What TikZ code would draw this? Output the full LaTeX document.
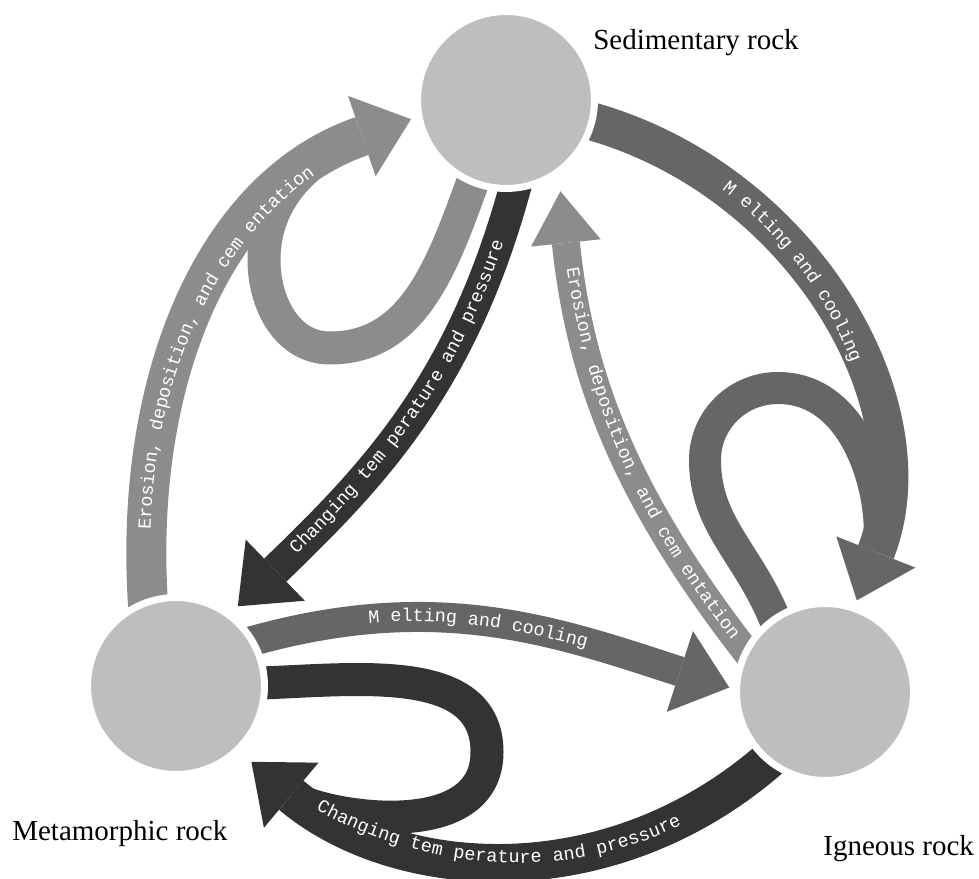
\documentclass[tikz,border=0pt]{standalone}
\usepackage{fontspec}
\setmainfont{Liberation Serif}
\newfontfamily\mono{Liberation Mono}
\usepackage{tikz}
\usetikzlibrary{arrows.meta, decorations.text, backgrounds}
\definecolor{rockfill}{RGB}{190, 190, 190}
\definecolor{erosion}{RGB}{140, 140, 140}
\definecolor{melting}{RGB}{102, 102, 102}
\definecolor{changing}{RGB}{51, 51, 51}
\newcommand{\bandfont}{\mono\fontsize{10.5}{12}\selectfont}

\begin{document}
\begin{tikzpicture}[x=0.02cm, y=0.02cm,
    rock/.style={circle, fill=rockfill, draw=white, line width=0.14cm,
      minimum size=3.54cm, inner sep=0pt},
    rockname/.style={anchor=base west, inner sep=0pt,
      font=\fontsize{16.5}{19}\selectfont},
    head/.style={-{Triangle[width=1.7cm, length=1.04cm, line width'=0pt]}},
    band/.style 2 args={draw=#1, line width=#2, shorten <=-0.2cm},
    bandtext/.style 2 args={decorate, decoration={text along path,
      text={|\bandfont|#1}, text color=white,
      text align={left, left indent=#2}, raise=-2.6pt}}]
  \useasboundingbox (0, 0) rectangle (979, 878);

  \node[rock] (sed) at (506, 778) {};
  \node[rock] (met) at (176, 192) {};
  \node[rock] (ign) at (825, 186) {};

  \node[rockname] (sedname) at (593, 828) {Sedimentary rock};
  \node[rockname] (metname) at (12, 38) {Metamorphic rock};
  \node[rockname] (ignname) at (823, 23) {Igneous rock};

  \coordinate (sedloopB) at (330, 530);
  \coordinate (sedloopL) at (264, 618);
  \coordinate (ignloopL) at (705, 418);
  \coordinate (ignloopT) at (778, 490);
  \coordinate (metloopR) at (487, 126);

  \begin{scope}[on background layer]
    % outer ring
    \draw[band={erosion}{0.8cm}, head, shorten >=0.1cm]
      (met.108) to[out=94, in=199] (sed.191);
    \draw[band={melting}{0.76cm}, head, shorten >=0.1cm]
      (sed.346) to[out=345, in=68.5] (ign.71);
    \draw[band={changing}{0.76cm}, head, shorten >=0.3cm]
      (ign.230) to[out=221.6, in=320] (met.314);

    % loops that run back into the ring
    \draw[band={erosion}{0.66cm}, shorten >=1.2cm]
      (sed.248) to[out=250, in=0] (sedloopB) to[out=180, in=270] (sedloopL)
      to[out=90, in=199] (sed.191);
    \draw[band={melting}{0.64cm}, shorten >=1.2cm]
      (ign.124) to[out=111, in=270] (ignloopL) to[out=90, in=180] (ignloopT)
      to[out=0, in=68.5] (ign.71);
    \draw[band={changing}{0.66cm}, shorten >=1.4cm]
      (met.2) to[out=2, in=90] (metloopR) to[out=270, in=320] (met.314);

    % inner triangle
    \draw[band={changing}{0.64cm}, head, shorten >=0.18cm]
      (sed.275) to[out=255, in=44] (met.53);
    \draw[band={erosion}{0.56cm}, -{Triangle[width=1.4cm, length=1.04cm, line width'=0pt]}, shorten >=0.32cm]
      (ign.152) to[out=128, in=276] (sed.305);
    \draw[band={melting}{0.6cm}, head, shorten >=0.08cm]
      (met.30) to[out=16, in=162] (ign.178);
  \end{scope}

  % texts on the bands
  \path[bandtext={Erosion, deposition, and cem entation}{1.38cm}]
    (met.108) to[out=94, in=199] (sed.191);
  \path[bandtext={M elting and cooling}{2.9cm}]
    (sed.346) to[out=345, in=68.5] (ign.71);
  \path[bandtext={Changing tem perature and pressure}{1.9cm}]
    (met.314) to[out=320, in=221.6] (ign.230);
  \path[bandtext={Changing tem perature and pressure}{1.74cm}]
    (met.53) to[out=44, in=255] (sed.275);
  \path[bandtext={Erosion, deposition, and cem entation}{1.86cm}]
    (sed.305) to[out=276, in=128] (ign.152);
  \path[bandtext={M elting and cooling}{2.3cm}]
    (met.30) to[out=16, in=162] (ign.178);
\end{tikzpicture}
\end{document}
